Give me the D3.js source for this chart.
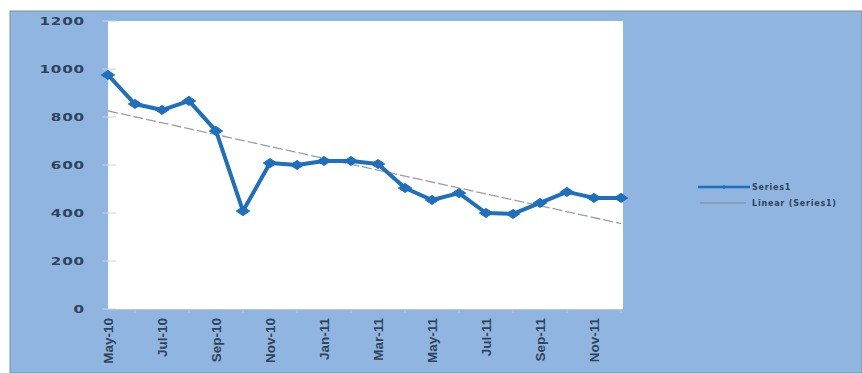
<!DOCTYPE html>
<html>
<head>
<meta charset="utf-8">
<script src="https://cdn.jsdelivr.net/npm/d3@7"></script>
<style>
  html, body { margin: 0; padding: 0; background: #ffffff; }
  svg { display: block; }
</style>
</head>
<body>
<svg id="chart" width="862" height="373"></svg>
<script>
// Monthly categories, May-10 through Dec-11
const months = ["May-10","Jun-10","Jul-10","Aug-10","Sep-10","Oct-10","Nov-10","Dec-10",
                "Jan-11","Feb-11","Mar-11","Apr-11","May-11","Jun-11","Jul-11","Aug-11",
                "Sep-11","Oct-11","Nov-11","Dec-11"];
const series1 = [975, 854, 829, 867, 742, 408, 608, 600, 617, 617,
                 604, 504, 454, 483, 400, 396, 442, 488, 463, 463];
const yTicks = [0, 200, 400, 600, 800, 1000, 1200];
const xTickLabels = ["May-10","Jul-10","Sep-10","Nov-10","Jan-11","Mar-11","May-11","Jul-11","Sep-11","Nov-11"];
const legendLabels = ["Series1", "Linear (Series1)"];

const svg = d3.select("#chart");
const W = 862, H = 373;
const plot = { left: 108, right: 623, top: 21, bottom: 309 };

const bg = "#8fb5e0";
const lineColor = "#1e6fbe";
const textColor = "#2f435a";

// outer chart area
svg.append("rect").attr("x", 10).attr("y", 11).attr("width", W - 10).attr("height", H - 11)
  .attr("fill", bg).attr("stroke", "#7d8ea3").attr("stroke-width", 1);

// plot area
svg.append("rect").attr("x", plot.left).attr("y", plot.top)
  .attr("width", plot.right - plot.left).attr("height", plot.bottom - plot.top)
  .attr("fill", "#ffffff");

const x = d3.scalePoint().domain(months).range([plot.left, 621]);
const y = d3.scaleLinear().domain([0, 1200]).range([plot.bottom, plot.top]);

// y axis: wide, extended-looking digits
const yAxis = d3.axisLeft(y).tickValues(yTicks).tickFormat(d3.format("d")).tickSize(0).tickPadding(0);
const gy = svg.append("g").attr("transform", `translate(${plot.left},0)`).call(yAxis);
gy.select(".domain").remove();
gy.selectAll("text")
  .attr("x", 0)
  .attr("transform", "translate(-23,0) scale(1.38,1)")
  .attr("fill", textColor)
  .style("font-family", "DejaVu Sans, sans-serif")
  .style("font-weight", "bold")
  .style("font-size", "11px")
  .style("letter-spacing", "0.6px");

// faint tick marks at left edge of plot
svg.append("g").selectAll("line").data(yTicks).join("line")
  .attr("x1", plot.left - 6).attr("x2", plot.left + 8)
  .attr("y1", d => y(d)).attr("y2", d => y(d))
  .attr("stroke", "#c9d3de").attr("stroke-width", 1);

// x axis
const xAxis = d3.axisBottom(x).tickValues(xTickLabels).tickSize(0).tickPadding(0);
const gx = svg.append("g").attr("transform", `translate(0,${plot.bottom})`).call(xAxis);
gx.select(".domain").attr("stroke", "#b9c6d4");
gx.selectAll("text")
  .attr("fill", textColor)
  .attr("transform", "rotate(-90)")
  .attr("text-anchor", "end")
  .attr("x", -9).attr("y", 0).attr("dy", "0.35em")
  .style("font-family", "Liberation Sans Narrow, Liberation Sans, sans-serif")
  .style("font-weight", "bold")
  .style("font-size", "13.5px");

// small x tick marks between month pairs
svg.append("g").selectAll("line").data(months.filter((d, i) => i % 2 === 1)).join("line")
  .attr("x1", d => x(d)).attr("x2", d => x(d))
  .attr("y1", plot.bottom).attr("y2", plot.bottom + 4)
  .attr("stroke", "#b9c6d4").attr("stroke-width", 1);

// linear trend (least squares fit of series1)
const n = series1.length;
const xi = d3.range(n);
const mx = d3.mean(xi), my = d3.mean(series1);
const slope = d3.sum(xi, i => (i - mx) * (series1[i] - my)) / d3.sum(xi, i => (i - mx) ** 2);
const intercept = my - slope * mx;
svg.append("line")
  .attr("x1", x(months[0])).attr("y1", y(intercept))
  .attr("x2", x(months[n - 1])).attr("y2", y(intercept + slope * (n - 1)))
  .attr("stroke", "#9a9fa4").attr("stroke-width", 1.3)
  .attr("stroke-dasharray", "10,3");

// series line
const line = d3.line().x((d, i) => x(months[i])).y(d => y(d));
svg.append("path").datum(series1)
  .attr("d", line)
  .attr("fill", "none")
  .attr("stroke", lineColor)
  .attr("stroke-width", 4)
  .attr("stroke-linejoin", "round");

// diamond markers
const diamond = d3.symbol().type(d3.symbolDiamond2).size(70);
svg.append("g").selectAll("path").data(series1).join("path")
  .attr("d", diamond)
  .attr("transform", (d, i) => `translate(${x(months[i])},${y(d)}) scale(1.25,0.85)`)
  .attr("fill", lineColor)
  .attr("stroke", lineColor)
  .attr("stroke-width", 1);

// legend
const lg = svg.append("g").attr("transform", "translate(698,187)");
lg.append("line").attr("x1", 0).attr("x2", 52).attr("y1", 0).attr("y2", 0)
  .attr("stroke", lineColor).attr("stroke-width", 2.5);
lg.append("path").attr("d", d3.symbol().type(d3.symbolDiamond2).size(14))
  .attr("transform", "translate(26,0)").attr("fill", lineColor);
lg.append("line").attr("x1", 2).attr("x2", 48).attr("y1", 16).attr("y2", 16)
  .attr("stroke", "#7f8790").attr("stroke-width", 1);
lg.selectAll("text").data(legendLabels).join("text")
  .attr("x", 54).attr("y", (d, i) => i * 16).attr("dy", "0.35em")
  .attr("fill", textColor)
  .style("font-family", "DejaVu Sans, sans-serif")
  .style("font-weight", "bold")
  .style("font-size", "8px")
  .style("letter-spacing", "0.8px")
  .text(d => d);
</script>
</body>
</html>
